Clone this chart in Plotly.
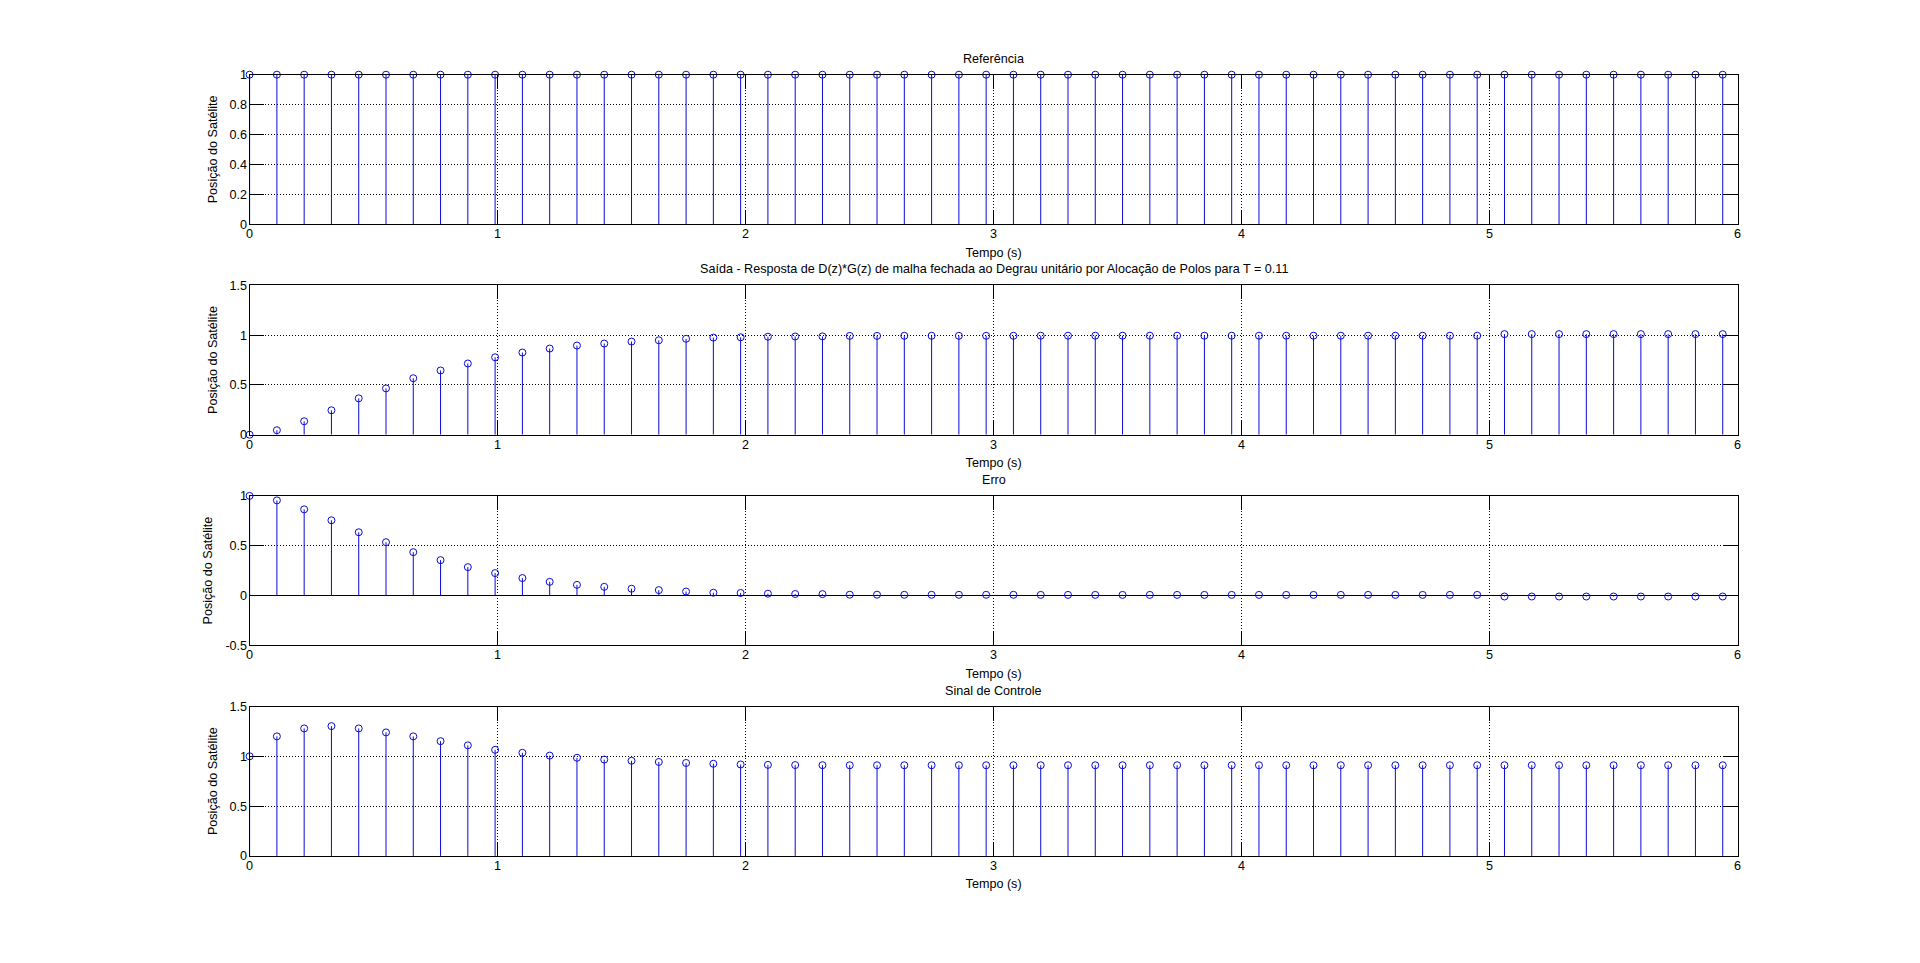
import plotly.graph_objects as go

# ---------------- data ----------------
tempo = [0.00, 0.11, 0.22, 0.33, 0.44, 0.55, 0.66, 0.77, 0.88, 0.99,
         1.10, 1.21, 1.32, 1.43, 1.54, 1.65, 1.76, 1.87, 1.98, 2.09,
         2.20, 2.31, 2.42, 2.53, 2.64, 2.75, 2.86, 2.97, 3.08, 3.19,
         3.30, 3.41, 3.52, 3.63, 3.74, 3.85, 3.96, 4.07, 4.18, 4.29,
         4.40, 4.51, 4.62, 4.73, 4.84, 4.95, 5.06, 5.17, 5.28, 5.39,
         5.50, 5.61, 5.72, 5.83, 5.94]

referencia = [1.0, 1.0, 1.0, 1.0, 1.0, 1.0, 1.0, 1.0, 1.0, 1.0,
              1.0, 1.0, 1.0, 1.0, 1.0, 1.0, 1.0, 1.0, 1.0, 1.0,
              1.0, 1.0, 1.0, 1.0, 1.0, 1.0, 1.0, 1.0, 1.0, 1.0,
              1.0, 1.0, 1.0, 1.0, 1.0, 1.0, 1.0, 1.0, 1.0, 1.0,
              1.0, 1.0, 1.0, 1.0, 1.0, 1.0, 1.0, 1.0, 1.0, 1.0,
              1.0, 1.0, 1.0, 1.0, 1.0]

saida = [0.000, 0.045, 0.135, 0.245, 0.365, 0.465, 0.567, 0.645, 0.715, 0.777,
         0.825, 0.865, 0.895, 0.915, 0.935, 0.948, 0.963, 0.975, 0.978, 0.984,
         0.986, 0.987, 0.992, 0.992, 0.993, 0.993, 0.993, 0.993, 0.993, 0.994,
         0.994, 0.994, 0.994, 0.994, 0.994, 0.994, 0.994, 0.994, 0.994, 0.994,
         0.994, 0.994, 0.994, 0.994, 0.994, 0.994, 1.010, 1.010, 1.010, 1.010,
         1.010, 1.010, 1.010, 1.010, 1.010]

erro = [1.000, 0.955, 0.865, 0.755, 0.635, 0.535, 0.435, 0.355, 0.285, 0.225,
        0.175, 0.137, 0.107, 0.087, 0.068, 0.054, 0.040, 0.028, 0.025, 0.018,
        0.015, 0.014, 0.008, 0.008, 0.007, 0.007, 0.007, 0.007, 0.007, 0.006,
        0.006, 0.006, 0.006, 0.006, 0.006, 0.006, 0.006, 0.006, 0.006, 0.006,
        0.006, 0.006, 0.006, 0.006, 0.006, 0.006, -0.010, -0.010, -0.010, -0.010,
        -0.010, -0.010, -0.010, -0.010, -0.010]

controle = [1.000, 1.200, 1.280, 1.303, 1.280, 1.240, 1.200, 1.152, 1.110, 1.065,
            1.035, 1.007, 0.985, 0.967, 0.955, 0.943, 0.933, 0.925, 0.918, 0.914,
            0.912, 0.911, 0.910, 0.910, 0.910, 0.910, 0.910, 0.910, 0.910, 0.910,
            0.910, 0.910, 0.910, 0.910, 0.910, 0.910, 0.910, 0.910, 0.910, 0.910,
            0.910, 0.910, 0.910, 0.910, 0.910, 0.910, 0.910, 0.910, 0.910, 0.910,
            0.910, 0.910, 0.910, 0.910, 0.910]

titulos = ["Referência",
           "Saída - Resposta de D(z)*G(z) de malha fechada ao Degrau unitário por Alocação de Polos para T = 0.11",
           "Erro",
           "Sinal de Controle"]
rotulo_x = "Tempo (s)"
rotulo_y = "Posição do Satélite"

x_ticks = [0, 1, 2, 3, 4, 5, 6]
x_ticklabels = ["0", "1", "2", "3", "4", "5", "6"]

y_ranges = [[0, 1], [0, 1.5], [-0.5, 1], [0, 1.5]]
y_ticks = [[0, 0.2, 0.4, 0.6, 0.8, 1],
           [0, 0.5, 1, 1.5],
           [-0.5, 0, 0.5, 1],
           [0, 0.5, 1, 1.5]]
y_ticklabels = [["0", "0.2", "0.4", "0.6", "0.8", "1"],
                ["0", "0.5", "1", "1.5"],
                ["-0.5", "0", "0.5", "1"],
                ["0", "0.5", "1", "1.5"]]

series = [referencia, saida, erro, controle]

# ---------------- layout constants ----------------
W, H = 1920, 963
FONT = "Arial, Liberation Sans, Helvetica, sans-serif"
FS = 12.6
STEM = "#0a0ad8"
x_dom = [0.13, 0.905]
# plot areas (top, bottom) in pixels
panels_px = [(74.7, 224.1), (285.3, 434.7), (495.9, 645.3), (706.5, 855.9)]

fig = go.Figure()

for i, (vals, (top, bot)) in enumerate(zip(series, panels_px)):
    ax = "" if i == 0 else str(i + 1)
    xa, ya = "x" + ax, "y" + ax
    # stems built from the data
    sx, sy = [], []
    for t, v in zip(tempo, vals):
        sx += [t, t, None]
        sy += [0, v, None]
    fig.add_trace(go.Scatter(x=sx, y=sy, mode="lines", xaxis=xa, yaxis=ya,
                             line=dict(color=STEM, width=1), hoverinfo="skip",
                             showlegend=False))
    fig.add_trace(go.Scatter(x=tempo, y=vals, mode="markers", xaxis=xa, yaxis=ya,
                             marker=dict(symbol="circle-open", size=7,
                                         color=STEM, line=dict(width=1, color=STEM)),
                             cliponaxis=False, showlegend=False))

    common = dict(showline=True, linecolor="black", linewidth=1, mirror="ticks",
                  ticks="inside", ticklen=14, tickcolor="black", tickwidth=1,
                  showgrid=True, gridcolor="black", gridwidth=1, griddash="1px,2px",
                  tickfont=dict(family=FONT, size=FS, color="black"),
                  automargin=False, fixedrange=True)
    fig.layout["xaxis" + ax] = dict(
        common, domain=x_dom, range=[0, 6], tickmode="array",
        tickvals=x_ticks, ticktext=x_ticklabels, anchor=ya, zeroline=False,
        ticklabelstandoff=-2,
        title=dict(text=rotulo_x, font=dict(family=FONT, size=FS, color="black"),
                   standoff=7))
    fig.layout["yaxis" + ax] = dict(
        common, domain=[1 - bot / H, 1 - top / H], range=y_ranges[i],
        tickmode="array", tickvals=y_ticks[i], ticktext=y_ticklabels[i], anchor=xa,
        zeroline=(i == 2), zerolinecolor="black", zerolinewidth=1,
        ticklabelstandoff=-1,
        title=dict(text=rotulo_y, font=dict(family=FONT, size=FS, color="black"),
                   standoff=9))
    fig.add_annotation(text=titulos[i], xref="paper", yref="paper",
                       x=(x_dom[0] + x_dom[1]) / 2, y=1 - (top - 16) / H,
                       xanchor="center", yanchor="middle", showarrow=False,
                       font=dict(family=FONT, size=FS, color="black"))

fig.update_layout(template="none", width=W, height=H,
                  margin=dict(l=0, r=0, t=0, b=0, pad=0, autoexpand=False),
                  paper_bgcolor="white", plot_bgcolor="white",
                  font=dict(family=FONT, size=FS, color="black"),
                  showlegend=False)

fig.write_html("out.html", config={"displayModeBar": False})
